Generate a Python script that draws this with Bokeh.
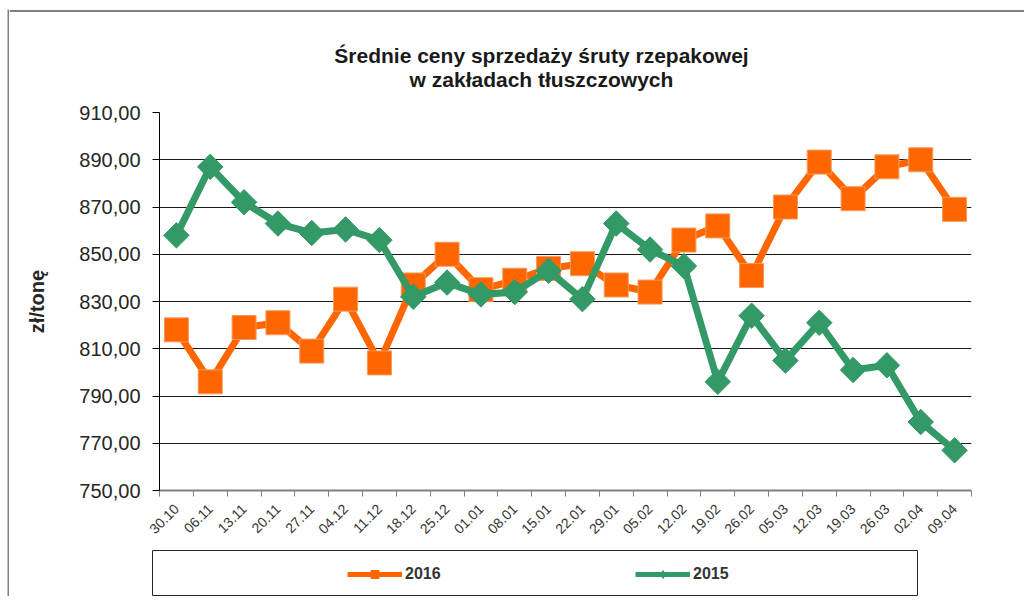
from bokeh.plotting import figure
from bokeh.models import (FixedTicker, Legend, LegendItem, ColumnDataSource, Range1d, Label,
                          Span, BoxAnnotation)
from bokeh.layouts import column, row
from bokeh.embed import file_html
from bokeh.resources import INLINE
import math

# ---- data ----
categories = ["30.10", "06.11", "13.11", "20.11", "27.11", "04.12", "11.12", "18.12",
              "25.12", "01.01", "08.01", "15.01", "22.01", "29.01", "05.02", "12.02",
              "19.02", "26.02", "05.03", "12.03", "19.03", "26.03", "02.04", "09.04"]
values_2016 = [818, 796, 819, 821, 809, 831, 804, 837,
               850, 835, 839, 844, 846, 837, 834, 856,
               862, 841, 870, 889, 873.5, 887, 890, 869]
values_2015 = [858, 887, 872, 863, 859, 860.5, 856, 832,
               838, 833, 834, 843, 831, 863, 852, 845,
               796, 824, 805, 821, 801, 803, 779, 767]
y_ticks = [750, 770, 790, 810, 830, 850, 870, 890, 910]
y_tick_labels = ["750,00", "770,00", "790,00", "810,00", "830,00", "850,00", "870,00", "890,00", "910,00"]
series_names = ["2016", "2015"]
title_lines = ["Średnie ceny sprzedaży śruty rzepakowej", "w zakładach tłuszczowych"]

ORANGE = "#FF6600"
GREEN = "#339966"
FRAME_GREY = "#7f7f7f"
FONT = "Liberation Sans"
W = 1015
H_TITLE, H_MAIN, H_LEG = 100, 448, 48
H_TOTAL = H_TITLE + H_MAIN + H_LEG


def blank(fig):
    fig.axis.visible = False
    fig.grid.visible = False
    fig.outline_line_color = None
    fig.background_fill_color = "white"
    fig.border_fill_color = "white"


xs = list(range(len(categories)))
src = ColumnDataSource(dict(x=xs, y16=values_2016, y15=values_2015))

# ---- thin strip carrying the left edge of the outer chart frame ----
edge = figure(width=9, height=H_TOTAL, output_backend="svg", toolbar_location=None, title=None,
              x_range=Range1d(0, 9), y_range=Range1d(0, H_TOTAL), min_border=0)
blank(edge)
edge.add_layout(BoxAnnotation(left=7, right=9, bottom=0, top=H_TOTAL - 9,
                              fill_color=FRAME_GREY, fill_alpha=1, line_color=None))

# ---- title strip (a plain canvas in pixel units) ----
tfig = figure(width=W, height=H_TITLE, output_backend="svg", toolbar_location=None, title=None,
              x_range=Range1d(0, W), y_range=Range1d(0, H_TITLE), min_border=0)
blank(tfig)
tfig.add_layout(Span(location=89.5, dimension="width", line_color=FRAME_GREY, line_width=2))
for text, ty in zip(title_lines, (45, 21)):
    tfig.add_layout(Label(x=532, y=ty, text=text, text_align="center", text_baseline="middle",
                          text_font=FONT, text_font_size="21px", text_font_style="bold",
                          text_color="#1a1a1a"))

# ---- main chart ----
p = figure(width=W, height=H_MAIN, output_backend="svg", toolbar_location=None, title=None,
           x_range=Range1d(-0.5, len(categories) - 0.5), y_range=Range1d(750, 910),
           min_border_left=150, min_border_right=53, min_border_top=12, min_border_bottom=58)
p.outline_line_color = None
p.background_fill_color = "white"
p.border_fill_color = "white"

# y axis
p.yaxis.ticker = FixedTicker(ticks=y_ticks)
p.yaxis.major_label_overrides = {t: l for t, l in zip(y_ticks, y_tick_labels)}
p.yaxis.major_label_text_font = FONT
p.yaxis.major_label_text_font_size = "20px"
p.yaxis.major_label_text_color = "#262626"
p.yaxis.major_tick_out = 7
p.yaxis.major_tick_in = 0
p.yaxis.minor_tick_line_color = None
p.yaxis.axis_line_color = "black"
p.yaxis.major_tick_line_color = "black"
p.yaxis.major_label_standoff = 12
p.yaxis.axis_label = "zł/tonę"
p.yaxis.axis_label_text_font = FONT
p.yaxis.axis_label_text_font_size = "20px"
p.yaxis.axis_label_text_font_style = "bold"
p.yaxis.axis_label_text_color = "#262626"
p.yaxis.axis_label_standoff = 28

# x axis
p.xaxis.ticker = FixedTicker(ticks=xs, minor_ticks=[i - 0.5 for i in range(len(categories) + 1)])
p.xaxis.major_label_overrides = {i: c for i, c in enumerate(categories)}
p.xaxis.major_label_orientation = math.pi / 4
p.xaxis.major_label_text_font = FONT
p.xaxis.major_label_text_font_size = "14px"
p.xaxis.major_label_text_color = "#333333"
p.xaxis.major_tick_in = 0
p.xaxis.major_tick_out = 0
p.xaxis.minor_tick_in = 0
p.xaxis.minor_tick_out = 6
p.xaxis.minor_tick_line_color = "#808080"
p.xaxis.axis_line_color = "#808080"
p.xaxis.axis_line_width = 2
p.xaxis.major_label_standoff = 10

p.xgrid.grid_line_color = None
p.ygrid.ticker = FixedTicker(ticks=y_ticks[1:-1])
p.ygrid.grid_line_color = "#1a1a1a"
p.ygrid.grid_line_width = 1

# series
p.line("x", "y16", source=src, line_color=ORANGE, line_width=7)
p.scatter("x", "y16", source=src, marker="square", size=24, fill_color=ORANGE,
          line_color="#f59a5c", line_width=1)
p.line("x", "y15", source=src, line_color=GREEN, line_width=7)
p.scatter("x", "y15", source=src, marker="square", angle=math.pi / 4, size=18,
          fill_color=GREEN, line_color=GREEN, line_width=1)

# ---- legend strip (series drawn off-range, only used for legend swatches) ----
leg = figure(width=W, height=H_LEG, output_backend="svg", toolbar_location=None, title=None,
             x_range=Range1d(1000, 1001), y_range=Range1d(0, 1),
             min_border_left=143, min_border_right=107, min_border_top=2, min_border_bottom=0)
leg.axis.visible = False
leg.grid.visible = False
leg.outline_line_color = "#262626"
leg.outline_line_width = 1
leg.background_fill_color = "white"
leg.border_fill_color = "white"
l16 = leg.line("x", "y16", source=src, line_color=ORANGE, line_width=5)
m16 = leg.scatter("x", "y16", source=src, marker="square", size=10, fill_color=ORANGE, line_color=ORANGE)
l15 = leg.line("x", "y15", source=src, line_color=GREEN, line_width=5)
m15 = leg.scatter("x", "y15", source=src, marker="diamond", size=12,
                  fill_color=GREEN, line_color=GREEN)
legend = Legend(items=[LegendItem(label=series_names[0], renderers=[l16, m16]),
                       LegendItem(label=series_names[1], renderers=[l15, m15])],
                orientation="horizontal", location=(195, 12),
                padding=0, margin=0, spacing=0, border_line_color=None,
                background_fill_alpha=0, glyph_width=55, glyph_height=20,
                label_standoff=3, label_width=230, label_height=20,
                label_text_font=FONT, label_text_font_size="16px",
                label_text_font_style="bold", label_text_color="#333333")
leg.add_layout(legend)

# keep each figure's own frame (no frame alignment between the plots)
for fig in (edge, tfig, p, leg):
    try:
        fig.frame_align = False
    except AttributeError:
        pass

layout = row(edge, column(tfig, p, leg))

open("out.html", "w").write(file_html(layout, INLINE))
